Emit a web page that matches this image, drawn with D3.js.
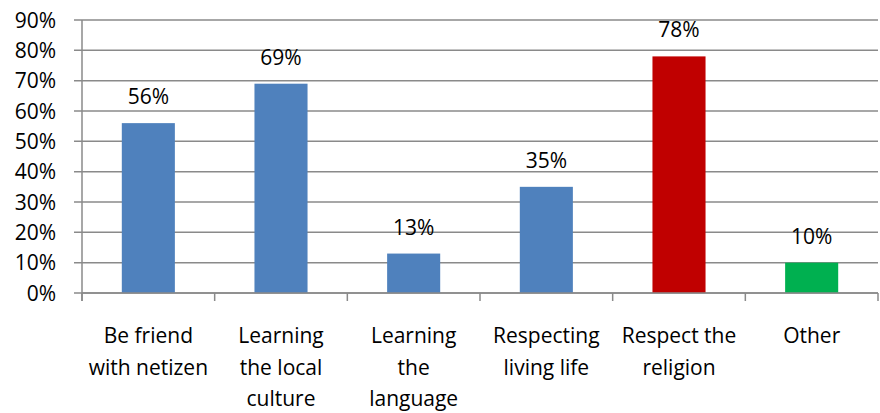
<!DOCTYPE html>
<html lang="en">
<head>
<meta charset="UTF-8">
<title>Chart</title>
<script src="https://d3js.org/d3.v7.min.js"></script>
<style>
  body { margin: 0; background: #fff; }
  text { font-family: "Open Sans", Lato, sans-serif; fill: #000; }
</style>
</head>
<body>
<script>
var categories = [
  ['Be friend', 'with netizen'],
  ['Learning', 'the local', 'culture'],
  ['Learning', 'the', 'language'],
  ['Respecting', 'living life'],
  ['Respect the', 'religion'],
  ['Other']
];
var values = [56, 69, 13, 35, 78, 10];
var barColors = ['#4F81BD', '#4F81BD', '#4F81BD', '#4F81BD', '#C00000', '#00B050'];
var yTicks = [0, 10, 20, 30, 40, 50, 60, 70, 80, 90];

var width = 880, height = 413;
var m = { left: 82, right: 878, top: 20, bottom: 293 };
var fontSize = '21px';

var svg = d3.select('body').append('svg')
  .attr('width', width)
  .attr('height', height);

var x = d3.scaleBand()
  .domain(d3.range(values.length))
  .range([m.left, m.right])
  .paddingInner(0.6)
  .paddingOuter(0.3);

var y = d3.scaleLinear()
  .domain([0, 90])
  .range([m.bottom, m.top]);

// gridlines
svg.append('g')
  .selectAll('line')
  .data(yTicks)
  .enter()
  .append('line')
  .attr('x1', m.left - 8)
  .attr('x2', m.right)
  .attr('y1', function(d) { return y(d); })
  .attr('y2', function(d) { return y(d); })
  .attr('stroke', '#8a8a8a')
  .attr('stroke-width', 1.5);

// y axis labels
svg.append('g')
  .selectAll('text')
  .data(yTicks)
  .enter()
  .append('text')
  .attr('x', m.left - 26)
  .attr('y', function(d) { return y(d) + 7.5; })
  .attr('text-anchor', 'end')
  .style('font-size', fontSize)
  .text(function(d) { return d + '%'; });

// bars
svg.append('g')
  .selectAll('rect')
  .data(values)
  .enter()
  .append('rect')
  .attr('x', function(d, i) { return x(i); })
  .attr('y', function(d) { return y(d); })
  .attr('width', x.bandwidth())
  .attr('height', function(d) { return y(0) - y(d); })
  .attr('fill', function(d, i) { return barColors[i]; });

// value labels
svg.append('g')
  .selectAll('text')
  .data(values)
  .enter()
  .append('text')
  .attr('x', function(d, i) { return x(i) + x.bandwidth() / 2; })
  .attr('y', function(d) { return y(d) - 19; })
  .attr('text-anchor', 'middle')
  .style('font-size', fontSize)
  .text(function(d) { return d + '%'; });

// y axis line
svg.append('line')
  .attr('x1', m.left).attr('x2', m.left)
  .attr('y1', m.top).attr('y2', m.bottom + 8)
  .attr('stroke', '#8a8a8a')
  .attr('stroke-width', 1.5);

// x axis line and category ticks
svg.append('line')
  .attr('x1', m.left).attr('x2', m.right)
  .attr('y1', m.bottom).attr('y2', m.bottom)
  .attr('stroke', '#8a8a8a')
  .attr('stroke-width', 1.5);

var step = x.step();
svg.append('g')
  .selectAll('line')
  .data(d3.range(values.length + 1))
  .enter()
  .append('line')
  .attr('x1', function(i) { return m.left + i * step; })
  .attr('x2', function(i) { return m.left + i * step; })
  .attr('y1', m.bottom)
  .attr('y2', m.bottom + 8)
  .attr('stroke', '#8a8a8a')
  .attr('stroke-width', 1.5);

// category labels
var cat = svg.append('g')
  .selectAll('text')
  .data(categories)
  .enter()
  .append('text')
  .attr('text-anchor', 'middle')
  .style('font-size', fontSize)
  .attr('transform', function(d, i) {
    return 'translate(' + (x(i) + x.bandwidth() / 2) + ',343)';
  });

cat.selectAll('tspan')
  .data(function(d) { return d; })
  .enter()
  .append('tspan')
  .attr('x', 0)
  .attr('y', function(d, j) { return j * 31.5; })
  .text(function(d) { return d; });
</script>
</body>
</html>
